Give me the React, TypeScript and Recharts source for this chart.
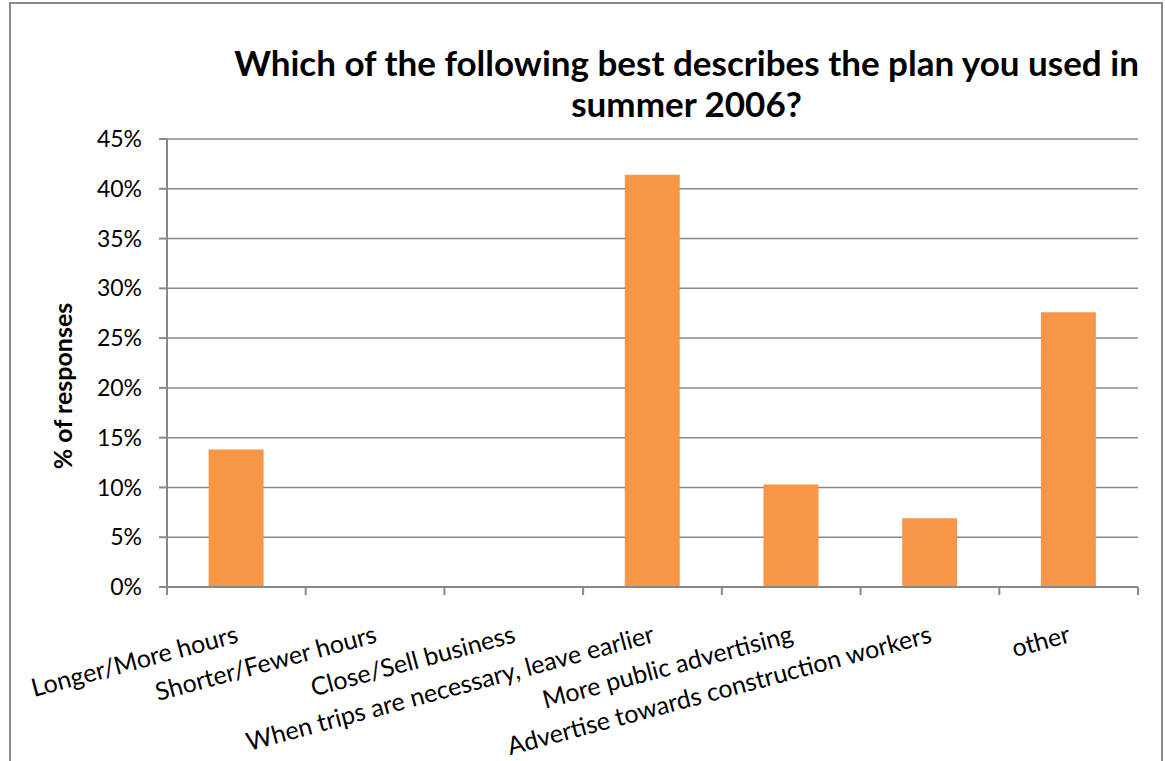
import React from 'react';
import { BarChart, Bar, XAxis, YAxis, CartesianGrid } from 'recharts';

const categories = [
  'Longer/More hours',
  'Shorter/Fewer hours',
  'Close/Sell business',
  'When trips are necessary, leave earlier',
  'More public advertising',
  'Advertise towards construction workers',
  'other',
];
const responses = [13.8, 0, 0, 41.4, 10.3, 6.9, 27.6];
const yTicks = [0, 5, 10, 15, 20, 25, 30, 35, 40, 45];

const titleLines = ['Which of the following best describes the plan you used in', 'summer 2006?'];
const yLabel = '% of responses';

const W = 1165;
const H = 761;
const PLOT_LEFT = 167;
const PLOT_RIGHT = 1138;
const PLOT_TOP = 139;
const PLOT_BOTTOM = 587;
const AXIS_GRAY = '#888888';
const FONT = 'Lato, "Open Sans", sans-serif';

const data = categories.map((name, i) => ({ name, value: responses[i] }));

const band = (PLOT_RIGHT - PLOT_LEFT) / categories.length;

function CategoryTick(props: any) {
  const { x, payload, index } = props;
  const left = x - band / 2;
  const right = x + band / 2;
  return (
    <g>
      <line x1={left} y1={PLOT_BOTTOM} x2={left} y2={PLOT_BOTTOM + 8} stroke={AXIS_GRAY} strokeWidth={2} />
      {index === categories.length - 1 && (
        <line x1={right} y1={PLOT_BOTTOM} x2={right} y2={PLOT_BOTTOM + 8} stroke={AXIS_GRAY} strokeWidth={2} />
      )}
      <text
        transform={`translate(${x + 3}, ${PLOT_BOTTOM + 55}) rotate(-15)`}
        textAnchor="end"
        fontFamily={FONT}
        fontSize={25}
        fill="#000"
      >
        {payload.value}
      </text>
    </g>
  );
}

export default function App() {
  return (
    <div style={{ position: 'absolute', left: 0, top: 0, width: W, height: H, overflow: 'hidden', background: '#fff' }}>
      <div
        style={{
          position: 'absolute',
          left: 9,
          top: 2,
          width: 1150,
          height: 820,
          border: `2px solid ${AXIS_GRAY}`,
        }}
      />
      <div
        style={{
          position: 'absolute',
          left: 230,
          top: 42,
          width: 913,
          textAlign: 'center',
          fontFamily: FONT,
          fontWeight: 700,
          fontSize: 35,
          lineHeight: '41px',
          color: '#000',
        }}
      >
        {titleLines[0]}
        <br />
        {titleLines[1]}
      </div>
      <div
        style={{
          position: 'absolute',
          left: 62,
          top: 386,
          transform: 'translate(-50%, -50%) rotate(-90deg)',
          whiteSpace: 'nowrap',
          fontFamily: FONT,
          fontWeight: 700,
          fontSize: 25,
          color: '#000',
        }}
      >
        {yLabel}
      </div>
      <div style={{ position: 'absolute', left: 0, top: 0 }}>
        <BarChart
          width={W}
          height={H}
          data={data}
          margin={{ top: PLOT_TOP, right: W - PLOT_RIGHT, bottom: 24, left: PLOT_LEFT - 80 }}
          barCategoryGap="30%"
        >
          <CartesianGrid vertical={false} stroke={AXIS_GRAY} strokeWidth={1.5} />
          <XAxis
            dataKey="name"
            interval={0}
            height={H - PLOT_BOTTOM - 24}
            axisLine={{ stroke: AXIS_GRAY, strokeWidth: 2 }}
            tickLine={false}
            tick={<CategoryTick />}
          />
          <YAxis
            width={80}
            domain={[0, 45]}
            ticks={yTicks}
            interval={0}
            tickFormatter={(v: number) => `${v}%`}
            axisLine={{ stroke: AXIS_GRAY, strokeWidth: 2 }}
            tickLine={{ stroke: AXIS_GRAY, strokeWidth: 2 }}
            tickSize={8}
            tickMargin={17}
            tick={{ fill: '#000', fontFamily: FONT, fontSize: 23 }}
          />
          <Bar dataKey="value" fill="#F79646" isAnimationActive={false} />
        </BarChart>
      </div>
    </div>
  );
}
